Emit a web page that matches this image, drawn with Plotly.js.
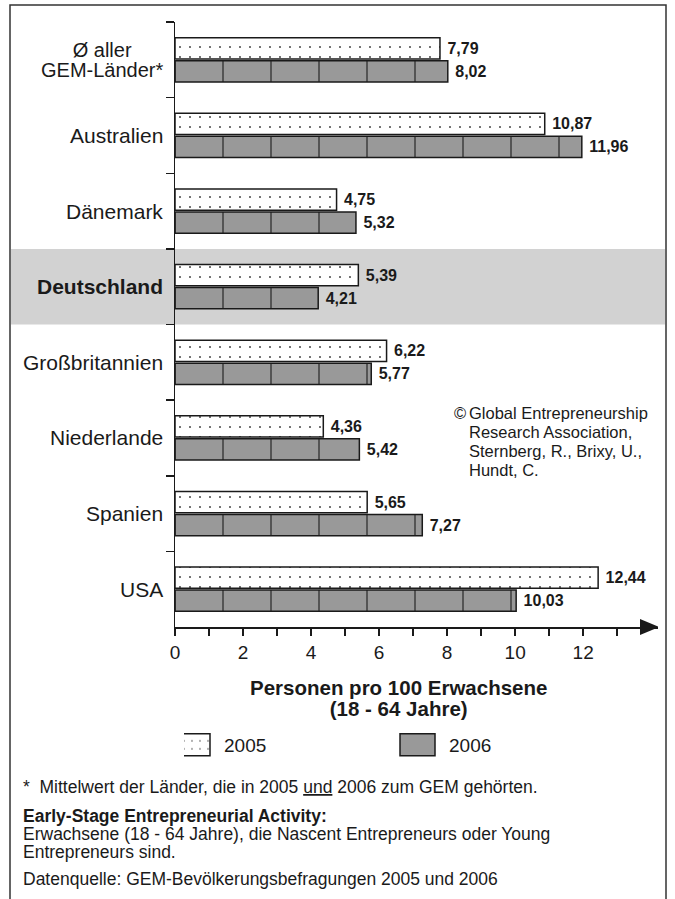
<!DOCTYPE html>
<html><head><meta charset="utf-8">
<script src="https://cdn.plot.ly/plotly-3.0.1.min.js"></script>
<style>html,body{margin:0;padding:0;background:#fff;} #chart{width:675px;height:899px;}</style>
</head><body><div id="chart"></div>
<script>
// ---- data ----
const categories = ['Ø aller GEM-Länder*', 'Australien', 'Dänemark', 'Deutschland', 'Großbritannien', 'Niederlande', 'Spanien', 'USA'];
const categoryLabels = [['Ø aller', 'GEM-Länder*'], ['Australien'], ['Dänemark'], ['<b>Deutschland</b>'], ['Großbritannien'], ['Niederlande'], ['Spanien'], ['USA']];
const values2005 = [7.79, 10.87, 4.75, 5.39, 6.22, 4.36, 5.65, 12.44];
const values2006 = [8.02, 11.96, 5.32, 4.21, 5.77, 5.42, 7.27, 10.03];
const seriesNames = ['2005', '2006'];
const xTickVals = [0, 2, 4, 6, 8, 10, 12];
const xMinorTickVals = [1, 3, 5, 7, 9, 11, 13];
const highlighted = 'Deutschland';
const xTitleLines = ['Personen pro 100 Erwachsene', '(18 - 64 Jahre)'];
const copyrightLines = ['Global Entrepreneurship', 'Research Association,', 'Sternberg, R., Brixy, U.,', 'Hundt, C.'];
const footnote = '*  Mittelwert der Länder, die in 2005 <u>und</u> 2006 zum GEM gehörten.';
const definitionLines = ['<b>Early-Stage Entrepreneurial Activity:</b>', 'Erwachsene (18 - 64 Jahre), die Nascent Entrepreneurs oder Young', 'Entrepreneurs sind.'];
const sourceNote = 'Datenquelle: GEM-Bevölkerungsbefragungen 2005 und 2006';

// ---- geometry helpers ----
const W = 675, H = 899, L = 175, R = 17, T = 22, B = 272;
const PW = W - L - R, PH = H - T - B;
const px = p => (p - L) / PW;
const py = p => (H - B - p) / PH;
const FONT = 'Liberation Sans, Arial, Helvetica, sans-serif';
const INK = '#1a1a1a';
const GREY2006 = '#999999';
const fmt = v => '<b>\u00a0' + v.toFixed(2).replace('.', ',') + '</b>';
// multi-line text with a chosen line pitch: base size sets the pitch (1.3em), spans set glyph size
const tight = (lines, glyph) => lines.map(l => '<span style="font-size:' + glyph + 'px">' + l + '</span>').join('<br>');

const common = {
  type: 'bar', orientation: 'h', y: categories,
  textposition: 'outside', cliponaxis: false, constraintext: 'none',
  textfont: {family: FONT, size: 16, color: INK},
  hoverinfo: 'skip'
};
const traces = [
  Object.assign({}, common, {
    name: seriesNames[0], x: values2005, text: values2005.map(fmt),
    marker: {color: '#ffffff', line: {color: INK, width: 1.5},
      pattern: {shape: '.', fillmode: 'replace', bgcolor: '#ffffff', fgcolor: '#444444', size: 10, solidity: 0.03}}
  }),
  Object.assign({}, common, {
    name: seriesNames[1], x: values2006, text: values2006.map(fmt),
    marker: {color: GREY2006, line: {color: INK, width: 1.5},
      pattern: {shape: '|', fillmode: 'replace', bgcolor: GREY2006, fgcolor: '#2a2a2a', size: 48, solidity: 0.026}}
  })
];

const annotations = [];
categories.forEach((c, i) => {
  const lines = categoryLabels[i];
  annotations.push({xref: 'paper', yref: 'y', x: 0, y: c, xanchor: 'right', yanchor: 'middle', xshift: -10,
    text: lines.length > 1 ? tight(lines, 20) : lines[0], showarrow: false, align: 'center',
    font: {family: FONT, size: lines.length > 1 ? 15.6 : 21, color: INK}});
});
annotations.push({xref: 'paper', yref: 'paper', x: px(398), y: py(698), xanchor: 'center', yanchor: 'middle', align: 'center',
  text: tight(xTitleLines.map(t => '<b>' + t + '</b>'), 20.5), showarrow: false, font: {family: FONT, size: 16, color: INK}});
annotations.push({xref: 'paper', yref: 'paper', x: px(452), y: py(413), xanchor: 'left', yanchor: 'middle',
  text: tight(['©'], 16.5), showarrow: false, font: {family: FONT, size: 14.6, color: INK}});
annotations.push({xref: 'paper', yref: 'paper', x: px(467), y: py(441.5), xanchor: 'left', yanchor: 'middle', align: 'left',
  text: tight(copyrightLines, 16.5), showarrow: false, font: {family: FONT, size: 14.6, color: INK}});
annotations.push({xref: 'paper', yref: 'paper', x: px(21), y: py(787), xanchor: 'left', yanchor: 'middle', align: 'left',
  text: footnote, showarrow: false, font: {family: FONT, size: 17.5, color: INK}});
annotations.push({xref: 'paper', yref: 'paper', x: px(21), y: py(834), xanchor: 'left', yanchor: 'middle', align: 'left',
  text: tight(definitionLines, 17.5), showarrow: false, font: {family: FONT, size: 13.9, color: INK}});
annotations.push({xref: 'paper', yref: 'paper', x: px(21), y: py(879), xanchor: 'left', yanchor: 'middle', align: 'left',
  text: sourceNote, showarrow: false, font: {family: FONT, size: 17.5, color: INK}});

const hi = categories.indexOf(highlighted);
const shapes = [
  {type: 'rect', xref: 'paper', yref: 'y', x0: px(11), x1: px(665), y0: hi - 0.5, y1: hi + 0.5,
    fillcolor: '#d2d2d2', line: {width: 0}, layer: 'below'},
  {type: 'rect', xref: 'paper', yref: 'paper', x0: px(10), x1: px(666), y0: py(910), y1: py(5),
    fillcolor: 'rgba(0,0,0,0)', line: {color: '#333333', width: 1.5}, layer: 'above'},
  {type: 'path', xref: 'x', yref: 'paper', xsizemode: 'pixel', ysizemode: 'pixel', xanchor: 14.2, yanchor: 0,
    path: 'M1,0 L-18,8 L-18,-8 Z', fillcolor: INK, line: {width: 0}, layer: 'above'}
];

const yCommon = {
  type: 'category', categoryorder: 'array', categoryarray: categories, range: [categories.length - 0.5, -0.5],
  tickson: 'boundaries', ticklen: 8, tickwidth: 1.5, tickcolor: INK, showticklabels: false,
  showgrid: false, zeroline: false, fixedrange: true
};
const layout = {
  width: W, height: H, margin: {l: L, r: R, t: T, b: B, pad: 0},
  paper_bgcolor: '#ffffff', plot_bgcolor: 'rgba(0,0,0,0)',
  font: {family: FONT, color: INK},
  barmode: 'group', bargap: 0.39, bargroupgap: 0.08,
  xaxis: {range: [0, 14.2], tickmode: 'array', tickvals: xTickVals, ticks: 'outside', ticklen: 7, tickwidth: 1.5, tickcolor: INK,
    minor: {tickmode: 'array', tickvals: xMinorTickVals, ticks: 'outside', ticklen: 7, tickwidth: 1.5, tickcolor: INK, showgrid: false},
    showline: true, linewidth: 2, linecolor: INK, showgrid: false, zeroline: false, fixedrange: true,
    tickfont: {family: FONT, size: 19, color: INK}},
  yaxis: Object.assign({}, yCommon, {ticks: 'outside', showline: true, linewidth: 1.5, linecolor: INK}),
  yaxis2: Object.assign({}, yCommon, {overlaying: 'y', anchor: 'x', side: 'left', ticks: 'inside', showline: false}),
  showlegend: true,
  legend: {orientation: 'h', x: px(184), y: py(726), xanchor: 'left', yanchor: 'top', entrywidth: 180, entrywidthmode: 'pixels',
    font: {family: FONT, size: 19, color: INK}, bgcolor: 'rgba(0,0,0,0)', itemclick: false, itemdoubleclick: false, traceorder: 'normal'},
  annotations: annotations, shapes: shapes
};

Plotly.newPlot('chart', traces, layout, {staticPlot: true, displayModeBar: false}).then(() => {
  // align the vertical divider texture of the 2006 fill with the reference
  document.querySelectorAll('pattern').forEach(p => { if (p.querySelector('path')) p.setAttribute('x', 24); });
  // larger rectangular legend swatches like the reference; 2006 swatch is plain texture grey
  document.querySelectorAll('.legend g.traces').forEach((g, i) => {
    g.querySelectorAll('g.legendpoints path').forEach(p => {
      p.setAttribute('d', 'M6,11H-29V-11H6Z');
      if (i === 1) p.style.fill = GREY2006;
    });
  });
});
</script></body></html>
